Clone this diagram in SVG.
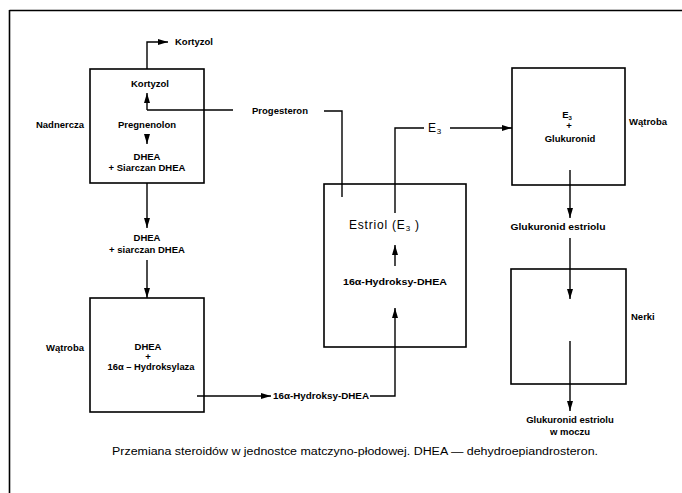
<svg xmlns="http://www.w3.org/2000/svg" width="682" height="493" viewBox="0 0 682 493">
  <style>
    .box { fill: none; stroke: #000; stroke-width: 1.6; }
    .ln { fill: none; stroke: #000; stroke-width: 1.4; }
    .arr { marker-end: url(#head); }
    text { font-family: "Liberation Sans", Arial, sans-serif; fill: #000; }
    .t { font-size: 9.5px; font-weight: bold; text-anchor: middle; }
    .side { font-size: 9.5px; font-weight: bold; }
    .big { font-size: 12px; letter-spacing: 0.8px; }
    .cap { font-size: 10px; }
  </style>
  <defs>
    <marker id="head" viewBox="0 0 10 6" refX="10" refY="3" markerWidth="10" markerHeight="6" markerUnits="userSpaceOnUse" orient="auto">
      <path d="M0,0 L10,3 L0,6 Z" fill="#000"/>
    </marker>
  </defs>
  <rect width="682" height="493" fill="#fff"/>

  <!-- outer frame: top rule and left rule -->
  <path d="M9.5,10.5 H682 M9.5,10 V493" fill="none" stroke="#000" stroke-width="1.6"/>

  <!-- adrenal gland box -->
  <g id="nadnercza">
    <rect class="box" x="90" y="69" width="114" height="114"/>
    <text class="side" x="84" y="128" text-anchor="end">Nadnercza</text>
    <text class="t" x="150" y="87">Kortyzol</text>
    <text class="t" x="147" y="128">Pregnenolon</text>
    <text class="t" x="147" y="160">DHEA</text>
    <text class="t" x="147" y="171">+ Siarczan DHEA</text>
  </g>

  <g id="kortyzol-out">
    <text class="t" x="175" y="45" style="text-anchor:start">Kortyzol</text>
  </g>

  <g id="dhea-mid">
    <text class="t" x="147" y="241">DHEA</text>
    <text class="t" x="147" y="253">+ siarczan DHEA</text>
  </g>

  <!-- liver box (left) -->
  <g id="watroba-lewa">
    <rect class="box" x="90" y="298" width="114" height="114"/>
    <text class="side" x="84" y="351" text-anchor="end">Wątroba</text>
    <text class="t" x="148" y="350">DHEA</text>
    <text class="t" x="148" y="360">+</text>
    <text class="t" x="151" y="370" textLength="87" lengthAdjust="spacingAndGlyphs">16α – Hydroksylaza</text>
  </g>

  <g id="hydroksy-out">
    <text class="t" x="273" y="399" style="text-anchor:start" textLength="96" lengthAdjust="spacingAndGlyphs">16α-Hydroksy-DHEA</text>
  </g>

  <g id="progesteron">
    <text class="t" x="280" y="114">Progesteron</text>
  </g>

  <!-- placenta box -->
  <g id="estriol">
    <rect class="box" x="324" y="184" width="142" height="163"/>
    <text class="big" x="349" y="229">Estriol (E<tspan font-size="8" dy="2">3</tspan><tspan dy="-2"> )</tspan></text>
    <text class="t" x="395" y="285" textLength="104" lengthAdjust="spacingAndGlyphs">16α-Hydroksy-DHEA</text>
  </g>

  <g id="e3-label">
    <text class="big" x="428" y="132">E<tspan font-size="8" dy="2">3</tspan></text>
  </g>

  <!-- liver box (right) -->
  <g id="watroba-prawa">
    <rect class="box" x="512" y="68" width="113" height="117"/>
    <text class="side" x="629" y="125">Wątroba</text>
    <text class="t" x="567" y="118">E<tspan font-size="6" dy="2">3</tspan></text>
    <text class="t" x="569" y="129">+</text>
    <text class="t" x="570" y="142">Glukuronid</text>
  </g>

  <g id="glukuronid-estriolu">
    <text class="t" x="558" y="230" textLength="95" lengthAdjust="spacingAndGlyphs">Glukuronid estriolu</text>
  </g>

  <!-- kidney box -->
  <g id="nerki">
    <rect class="box" x="511" y="269" width="115" height="115"/>
    <text class="side" x="631" y="320">Nerki</text>
  </g>

  <g id="mocz">
    <text class="t" x="570" y="423">Glukuronid estriolu</text>
    <text class="t" x="570" y="435">w moczu</text>
  </g>

  <!-- connectors -->
  <g id="connectors">
    <path class="ln arr" d="M147,69 V42 H168"/>
    <path class="ln arr" d="M147,110 V93"/>
    <path class="ln" d="M147,110 H233"/>
    <path class="ln" d="M324,111 H342 V197"/>
    <path class="ln arr" d="M147,135 V144"/>
    <path class="ln arr" d="M147,183 V228"/>
    <path class="ln arr" d="M147,260 V298"/>
    <path class="ln arr" d="M197,396 H271"/>
    <path class="ln arr" d="M370,396 H395 V308"/>
    <path class="ln arr" d="M395,266 V245"/>
    <path class="ln" d="M395,213 V128 H424"/>
    <path class="ln arr" d="M450,128 H512"/>
    <path class="ln arr" d="M570,170 V218"/>
    <path class="ln arr" d="M570,238 V299"/>
    <path class="ln arr" d="M570,341 V411"/>
  </g>

  <g id="caption">
    <text class="cap" x="112" y="455" textLength="486" lengthAdjust="spacingAndGlyphs">Przemiana steroidów w jednostce matczyno-płodowej. DHEA — dehydroepiandrosteron.</text>
  </g>
</svg>
